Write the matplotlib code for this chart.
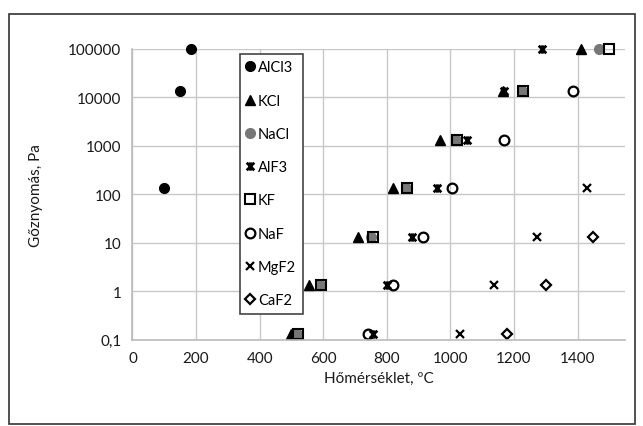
import matplotlib
matplotlib.use("Agg")
import matplotlib.pyplot as plt
from matplotlib.path import Path
from matplotlib.patches import Rectangle

plt.rcParams['font.family'] = ['Lato', 'DejaVu Sans']

# vapour pressure levels (Pa) = 1e-3 ... 760 mmHg
p_low = [0.133, 1.33, 13.3, 133, 1333, 13332, 101325]

alcl3_t = [99, 149, 184]
alcl3_p = [133, 13332, 101325]

kcl_t = [498, 556, 709, 820, 967, 1164, 1411]
nacl_t = [518, 590, 751, 860, 1017, 1224, 1468]
kf_t = [521, 593, 755, 864, 1021, 1229, 1500]
alf3_t = [755, 801, 878, 957, 1053, 1170, 1289]
naf_t = [740, 818, 914, 1004, 1169, 1386]
naf_p = [0.133, 1.33, 13.3, 133, 1333, 13332]
mgf2_t = [1030, 1138, 1271, 1431]
mgf2_p = [0.133, 1.33, 13.3, 133]
caf2_t = [1178, 1302, 1447]
caf2_p = [0.133, 1.33, 13.3]

yticks = [0.1, 1, 10, 100, 1000, 10000, 100000]
ylabels = ["0,1", "1", "10", "100", "1000", "10000", "100000"]
xticks = [0, 200, 400, 600, 800, 1000, 1200, 1400]

# Excel-like "star" marker: x with a vertical bar
star = Path([(-1, -1), (1, 1), (-1, 1), (1, -1), (0, -1.1), (0, 1.1)],
            [Path.MOVETO, Path.LINETO, Path.MOVETO, Path.LINETO, Path.MOVETO, Path.LINETO])

fig = plt.figure(figsize=(6.43, 4.27), dpi=100)
ax = fig.add_axes([0.206, 0.202, 0.766, 0.681])

kw = dict(linestyle='none', clip_on=False)
ax.plot(alcl3_t, alcl3_p, marker='o', color='black', ms=7, label='AlCl3', **kw)
ax.plot(kcl_t, p_low, marker='^', color='black', ms=7, label='KCl', **kw)
ax.plot(nacl_t, p_low, marker='o', color='#777777', ms=7, label='NaCl', **kw)
ax.plot(alf3_t, p_low, marker=star, color='black', mew=2, ms=6, label='AlF3', **kw)
ax.plot(kf_t, p_low, marker='s', mfc='none', mec='black', mew=1.5, ms=7, label='KF', **kw)
ax.plot(naf_t, naf_p, marker='o', mfc='none', mec='black', mew=1.6, ms=7, label='NaF', **kw)
ax.plot(mgf2_t, mgf2_p, marker='x', color='black', mew=1.6, ms=6, label='MgF2', **kw)
ax.plot(caf2_t, caf2_p, marker='D', mfc='none', mec='black', mew=1.6, ms=5, label='CaF2', **kw)

ax.set_yscale('log')
ax.set_xlim(0, 1549)
ax.set_ylim(0.1, 100000)
ax.set_yticks(yticks)
ax.set_yticklabels(ylabels)
ax.minorticks_off()
ax.set_xticks(xticks)
ax.tick_params(length=0, labelsize=11, pad=8, colors='#1a1a1a')
ax.grid(True, color='#c8c8c8', lw=1)
ax.set_axisbelow(True)
for s in ['top', 'right']:
    ax.spines[s].set_visible(False)
for s in ['left', 'bottom']:
    ax.spines[s].set_color('#bbbbbb')
    ax.spines[s].set_linewidth(1.2)

ax.set_xlabel("Hőmérséklet, ºC", fontsize=11, color='#1a1a1a', labelpad=4)
ax.set_ylabel("Gőznyomás, Pa", fontsize=11, color='#1a1a1a', labelpad=18)

leg = ax.legend(loc='upper left', bbox_to_anchor=(0.218, 0.983), fontsize=10.5,
                labelspacing=1.32, handlelength=0.5, handletextpad=0.3,
                borderpad=0.45, borderaxespad=0, fancybox=False, framealpha=1)
leg.get_frame().set_edgecolor('#444444')
leg.get_frame().set_linewidth(1.2)

fig.patches.append(Rectangle((9 / 643, 2 / 427), 626 / 643, 410 / 427, transform=fig.transFigure,
                             fill=False, edgecolor='#333333', lw=1.2))

fig.savefig("out.png", dpi=100)
